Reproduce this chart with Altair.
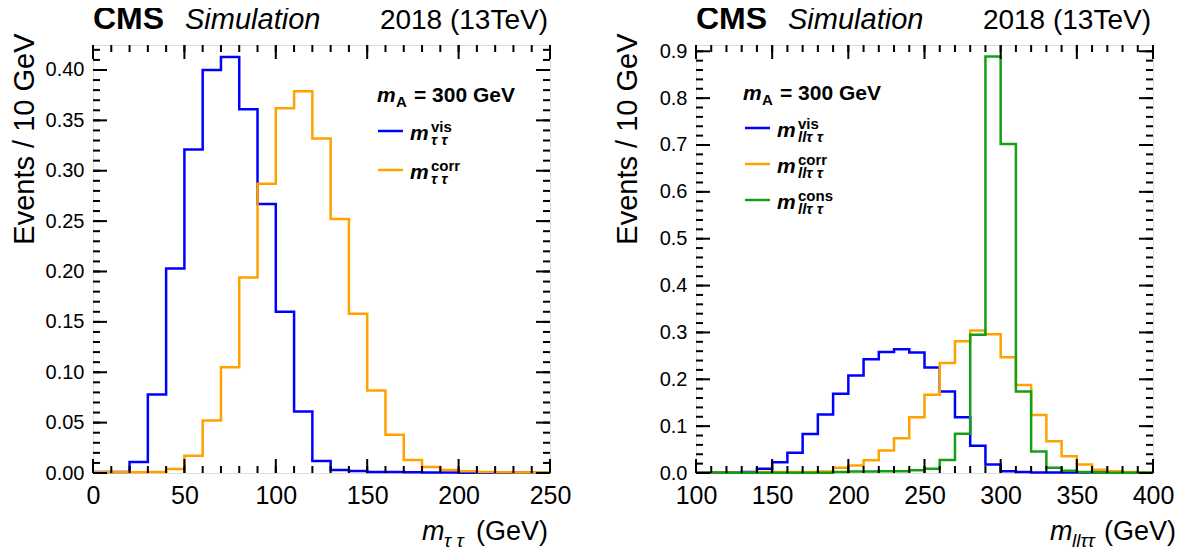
import altair as alt
import pandas as pd

FONT = "Liberation Sans"
BLUE = "#0000ff"
ORANGE = "#ffa200"
GREEN = "#14a014"

# ---------------- data (bin lower edges, 10 GeV bins) ----------------
left_edges = [0, 10, 20, 30, 40, 50, 60, 70, 80, 90, 100, 110, 120, 130, 140,
              150, 160, 170, 180, 190, 200, 210, 220, 230, 240, 250]
left_vis = [0.001, 0.001, 0.011, 0.078, 0.203, 0.321, 0.400, 0.413, 0.361, 0.267,
            0.160, 0.061, 0.012, 0.003, 0.002, 0.001, 0.001, 0.0008, 0.0006, 0.0005,
            0.0003, 0.0003, 0.0003, 0.0003, 0.0003]
left_corr = [0.0008, 0.0008, 0.0008, 0.001, 0.004, 0.017, 0.052, 0.105, 0.194, 0.287,
             0.362, 0.379, 0.332, 0.252, 0.158, 0.082, 0.038, 0.013, 0.006, 0.003,
             0.0017, 0.001, 0.0008, 0.0006, 0.0005]

right_edges = [100, 110, 120, 130, 140, 150, 160, 170, 180, 190, 200, 210, 220, 230,
               240, 250, 260, 270, 280, 290, 300, 310, 320, 330, 340, 350, 360, 370,
               380, 390, 400]
right_vis = [0.001, 0.001, 0.001, 0.002, 0.009, 0.023, 0.043, 0.083, 0.125, 0.169,
             0.208, 0.243, 0.258, 0.264, 0.257, 0.225, 0.174, 0.119, 0.058, 0.018,
             0.004, 0.002, 0.001, 0.001, 0.001, 0.001, 0.001, 0.001, 0.001, 0.001]
right_corr = [0.0005, 0.0005, 0.0005, 0.0005, 0.002, 0.002, 0.002, 0.002, 0.003, 0.011,
              0.016, 0.027, 0.048, 0.074, 0.119, 0.167, 0.235, 0.281, 0.304, 0.296,
              0.247, 0.188, 0.124, 0.068, 0.036, 0.018, 0.007, 0.004, 0.002, 0.001]
right_cons = [0.0003, 0.0003, 0.0003, 0.0003, 0.0003, 0.0003, 0.0003, 0.0003, 0.0003, 0.002,
              0.003, 0.003, 0.004, 0.004, 0.006, 0.009, 0.028, 0.084, 0.295, 0.889,
              0.702, 0.174, 0.046, 0.011, 0.005, 0.002, 0.001, 0.0005, 0.0003, 0.0003]

series_names = ["vis", "corr", "cons"]
series_colors = [BLUE, ORANGE, GREEN]

# tick values
left_x_major = [0, 50, 100, 150, 200, 250]
left_x_minor = list(range(0, 251, 10))
left_y_major = [0.0, 0.05, 0.10, 0.15, 0.20, 0.25, 0.30, 0.35, 0.40]
left_y_minor = [i / 100 for i in range(0, 43)]
right_x_major = [100, 150, 200, 250, 300, 350, 400]
right_x_minor = list(range(100, 401, 10))
right_y_major = [0.0, 0.1, 0.2, 0.3, 0.4, 0.5, 0.6, 0.7, 0.8, 0.9]
right_y_minor = [i * 0.02 for i in range(0, 46)]

left_ydomain = [0, 0.4248]
right_ydomain = [0, 0.9134]

W, H = 457, 428
MAJ, MIN = 14, 7


def step_frame(edges, values, name):
    xs = list(edges[:len(values)]) + [edges[len(values)]]
    ys = list(values) + [values[-1]]
    return pd.DataFrame({"x": xs, "y": ys, "series": name})


def dummy():
    return alt.Chart(pd.DataFrame({"a": [0]}))


def txt(s, x, y, size, weight="normal", style="normal", align="left"):
    return dummy().mark_text(
        text=s, font=FONT, fontSize=size, fontWeight=weight, fontStyle=style,
        align=align, baseline="alphabetic", color="black"
    ).encode(x=alt.value(x), y=alt.value(y))


def panel(edges, series, xdom, ydom, xmaj, xmin, ymaj, ymin, yfmt,
          legend, xtitle):
    xs = alt.Scale(domain=xdom, nice=False, zero=False)
    ys = alt.Scale(domain=ydom, nice=False, zero=False)
    xaxis = alt.Axis(values=xmaj, format="d", ticks=False, domain=False,
                     grid=False, labelFontSize=25, labelPadding=10,
                     labelFlush=False, labelOverlap=False, labelFont=FONT,
                     labelColor="black", title=None)
    yaxis = alt.Axis(values=ymaj, format=yfmt, ticks=False, domain=False,
                     grid=False, labelFontSize=20, labelPadding=9,
                     labelFlush=False, labelOverlap=False, labelFont=FONT,
                     labelColor="black",
                     title="Events / 10 GeV", titleFont=FONT,
                     titleFontSize=29, titleFontWeight="normal",
                     titleColor="black", titleAngle=270, titleX=-60,
                     titleY=-12, titleAlign="right",
                     titleBaseline="alphabetic")
    cscale = alt.Scale(domain=series_names, range=series_colors)
    layers = []
    for vals, name in series:
        df = step_frame(edges, vals, name)
        layers.append(
            alt.Chart(df).mark_line(interpolate="step-after", strokeWidth=2.5)
            .encode(x=alt.X("x:Q", scale=xs, axis=xaxis),
                    y=alt.Y("y:Q", scale=ys, axis=yaxis),
                    color=alt.Color("series:N", scale=cscale, legend=None))
        )
    # tick marks (inside, all four sides)
    for vals, ln in ((xmin, MIN), (xmaj, MAJ)):
        dfx = pd.DataFrame({"x": vals})
        layers.append(alt.Chart(dfx).mark_rule(color="black", strokeWidth=2).encode(
            x=alt.X("x:Q", scale=xs, axis=xaxis), y=alt.value(H), y2=alt.value(H - ln)))
        layers.append(alt.Chart(dfx).mark_rule(color="black", strokeWidth=2).encode(
            x=alt.X("x:Q", scale=xs, axis=xaxis), y=alt.value(0), y2=alt.value(ln)))
    for vals, ln in ((ymin, MIN), (ymaj, MAJ)):
        dfy = pd.DataFrame({"y": vals})
        layers.append(alt.Chart(dfy).mark_rule(color="black", strokeWidth=2).encode(
            y=alt.Y("y:Q", scale=ys, axis=yaxis), x=alt.value(0), x2=alt.value(ln)))
        layers.append(alt.Chart(dfy).mark_rule(color="black", strokeWidth=2).encode(
            y=alt.Y("y:Q", scale=ys, axis=yaxis), x=alt.value(W), x2=alt.value(W - ln)))

    # header texts
    layers.append(txt("CMS", 0, -16, 32, weight="bold"))
    layers.append(txt("Simulation", 92, -16, 29, style="italic"))
    layers.append(txt("2018 (13TeV)", 455, -16, 28, align="right"))

    # legend
    hx, hy, lx, entries, sub = legend
    layers.append(txt("m", hx, hy, 21, weight="bold", style="italic"))
    layers.append(txt("A", hx + 19, hy + 5, 15, weight="bold"))
    layers.append(txt("= 300 GeV", hx + 37, hy, 21, weight="bold"))
    for ly, label, color in entries:
        layers.append(dummy().mark_rule(color=color, strokeWidth=2.5).encode(
            x=alt.value(lx), x2=alt.value(lx + 25), y=alt.value(ly)))
        layers.append(txt("m", lx + 32, ly + 9, 21, weight="bold", style="italic"))
        layers.append(txt(label, lx + 53, ly + 1, 15, weight="bold"))
        layers.append(txt(sub, lx + 53, ly + 14, 15, weight="bold", style="italic"))

    # x-axis title
    mx, subx, sub_t, gx = xtitle
    layers.append(txt("m", mx, 495, 27, style="italic"))
    layers.append(txt(sub_t, subx, 502, 19, style="italic"))
    layers.append(txt("(GeV)", gx, 495, 27, align="right"))

    return alt.layer(*layers).properties(width=W, height=H)


left = panel(
    left_edges, [(left_vis, "vis"), (left_corr, "corr")], [0, 250], left_ydomain,
    left_x_major, left_x_minor, left_y_major, left_y_minor, ".2f",
    (284, 57, 285, [(86, "vis", BLUE), (125, "corr", ORANGE)], "τ τ"),
    (329, 351, "τ τ", 455),
)
right = panel(
    right_edges, [(right_vis, "vis"), (right_corr, "corr"), (right_cons, "cons")],
    [100, 400], right_ydomain,
    right_x_major, right_x_minor, right_y_major, right_y_minor, ".1f",
    (47, 55, 49, [(83, "vis", BLUE), (119, "corr", ORANGE), (155, "cons", GREEN)], "llτ τ"),
    (354, 376, "llττ", 480),
)

chart = alt.hconcat(left, right, spacing=40).properties(
    padding={"left": 1, "top": -6, "right": -2, "bottom": -3}
).configure_view(stroke="black", strokeWidth=2.5).configure(font=FONT, background="white")

chart.save("out.html", embed_options={"renderer": "svg", "actions": False})
